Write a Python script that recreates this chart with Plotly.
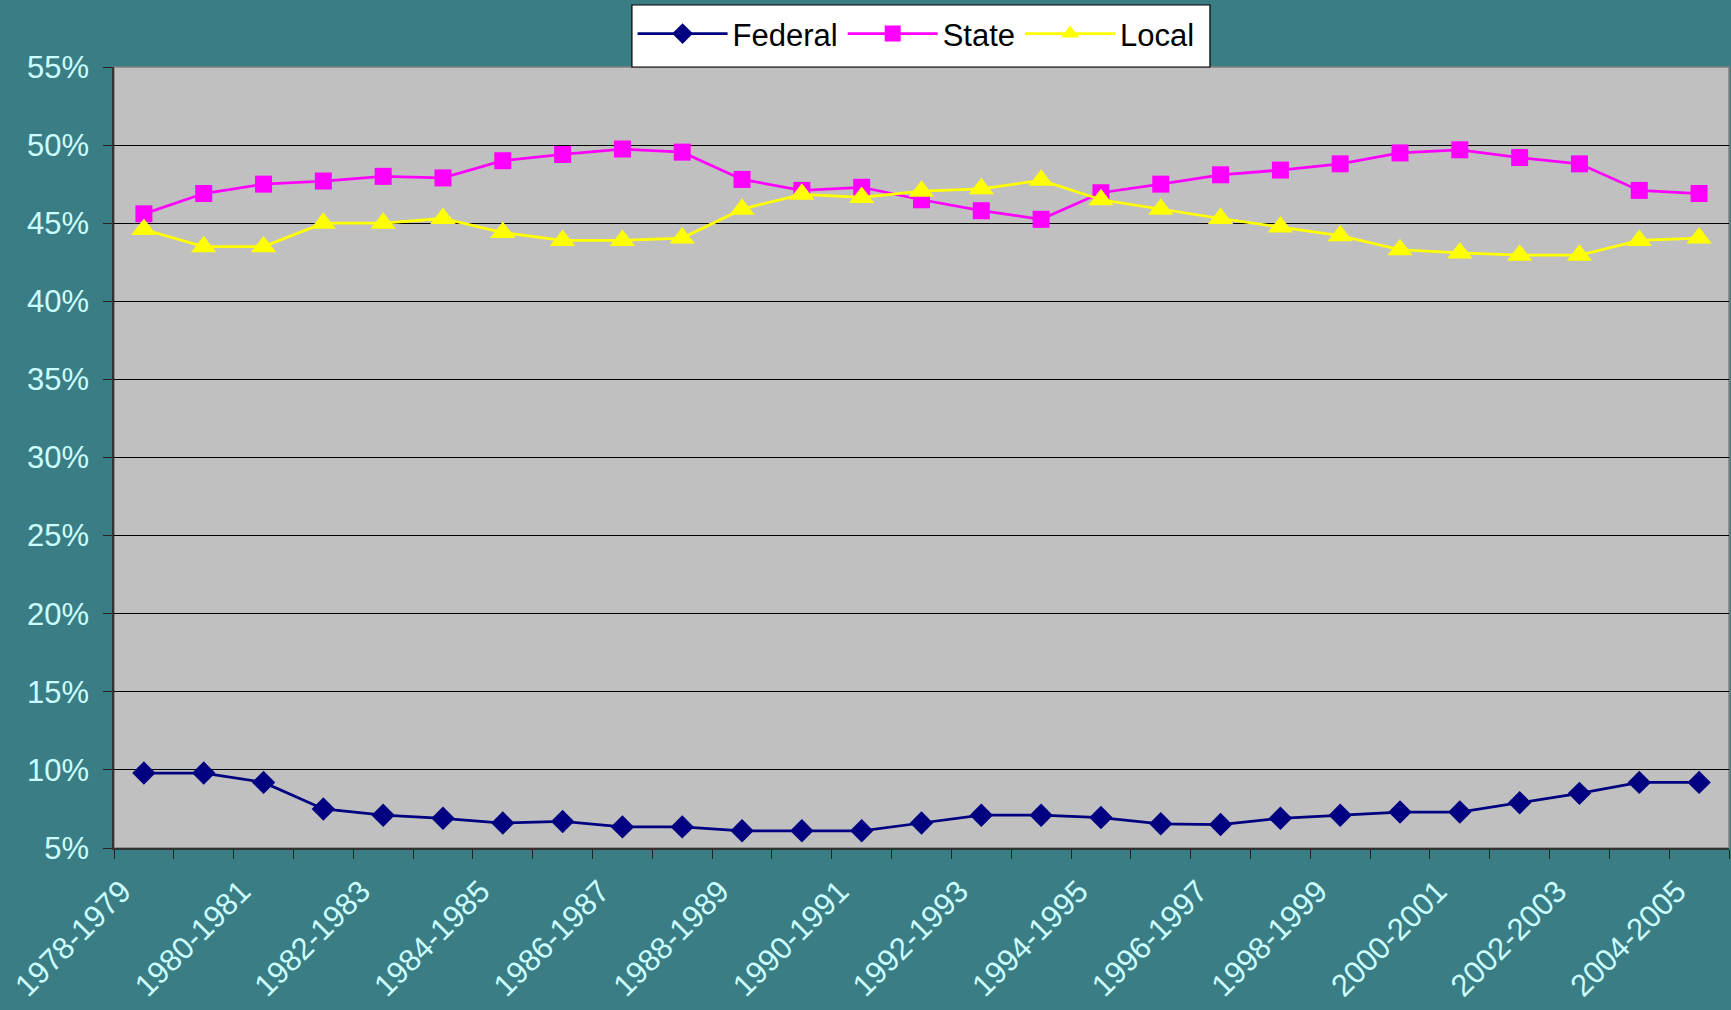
import plotly.graph_objects as go

years = [f"{y}-{y+1}" for y in range(1978, 2005)]
tick_labels = [lab if i % 2 == 0 else "" for i, lab in enumerate(years)]

federal = [9.8, 9.8, 9.2, 7.5, 7.1, 6.9, 6.6, 6.7, 6.35, 6.35, 6.1, 6.1, 6.1, 6.6,
           7.1, 7.1, 6.95, 6.55, 6.5, 6.9, 7.1, 7.3, 7.3, 7.9, 8.5, 9.2, 9.2]
state = [45.6, 46.9, 47.5, 47.7, 48.0, 47.9, 49.0, 49.4, 49.75, 49.55, 47.8, 47.1, 47.3, 46.5,
         45.8, 45.25, 46.95, 47.5, 48.1, 48.4, 48.8, 49.5, 49.7, 49.2, 48.8, 47.1, 46.9]
local = [44.6, 43.5, 43.5, 45.0, 45.0, 45.3, 44.4, 43.9, 43.9, 44.05, 45.9, 46.85, 46.65, 47.05,
         47.2, 47.75, 46.5, 45.9, 45.3, 44.75, 44.2, 43.3, 43.1, 42.95, 42.95, 43.9, 44.05]

series = [
    ("Federal", federal, "#000080", "diamond", 18),
    ("State", state, "#FF00FF", "square", 17),
    ("Local", local, "#FFFF00", "triangle-up", 22),
]

font_family = "Arial, Liberation Sans, sans-serif"
label_color = "#CCFFFF"

fig = go.Figure()
for name, vals, color, symbol, size in series:
    fig.add_trace(go.Scatter(
        x=years, y=vals, name=name, mode="lines+markers",
        line=dict(color=color, width=2.75),
        marker=dict(symbol=symbol, size=size, color=color, line=dict(width=0)),
    ))

fig.update_layout(
    width=1731, height=1010,
    paper_bgcolor="#3A7D84",
    plot_bgcolor="#C0C0C0",
    margin=dict(l=114, r=2, t=67, b=162),
    font=dict(family=font_family, size=31, color=label_color),
    showlegend=True,
    legend=dict(
        orientation="h", x=0.3211, xanchor="left", y=1.0423, yanchor="middle",
        bgcolor="rgba(0,0,0,0)", borderwidth=0,
        font=dict(family=font_family, size=31, color="black"),
        itemwidth=90, traceorder="normal",
    ),
    xaxis=dict(
        type="category", categoryorder="array", categoryarray=years,
        range=[-0.5, len(years) - 0.5],
        tickmode="array", tickvals=years, ticktext=tick_labels,
        tickson="boundaries", ticks="outside", ticklen=9, tickcolor="#222222",
        tickangle=-45, ticklabelshift=-22, ticklabelstandoff=11,
        showgrid=False, showline=True, linecolor="#333333", linewidth=1.5,
        tickfont=dict(family=font_family, size=31, color=label_color),
    ),
    yaxis=dict(
        range=[5, 55], dtick=5, tick0=5, ticksuffix="%",
        ticks="outside", ticklen=9, tickcolor="#222222", ticklabelstandoff=8,
        showgrid=True, gridcolor="#000000", gridwidth=1,
        showline=True, linecolor="#333333", linewidth=1.5, zeroline=False,
        tickfont=dict(family=font_family, size=31, color=label_color),
    ),
)

# plot frame
fig.add_shape(type="rect", xref="paper", yref="paper", x0=0, x1=1, y0=0, y1=1,
              line=dict(color="#808080", width=1.5), layer="below")
# legend box
fig.add_shape(type="rect", xref="paper", yref="paper", x0=0.3207, x1=0.6786, y0=1.0, y1=1.0794,
              line=dict(color="black", width=1.2), fillcolor="white", layer="above")

fig.write_html("out.html", config={"displayModeBar": False},
               post_script="document.body.style.margin='0';document.body.style.overflow='hidden';")
